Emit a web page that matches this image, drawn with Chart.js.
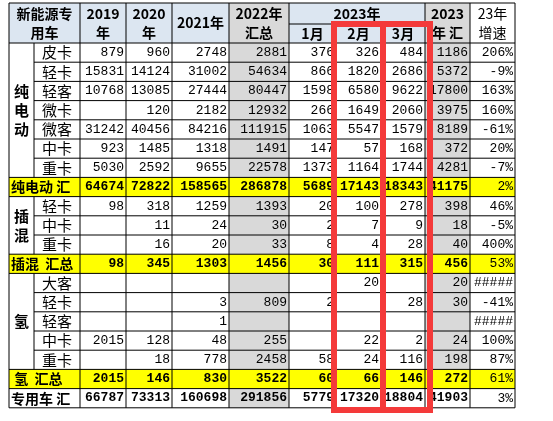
<!DOCTYPE html>
<html>
<head>
<meta charset="utf-8">
<script src="https://cdn.jsdelivr.net/npm/chart.js@4.4.0/dist/chart.umd.min.js"></script>
<style>
  html, body { margin: 0; padding: 0; background: #fff; }
  #wrap { width: 553px; height: 421px; }
</style>
</head>
<body>
<div id="wrap"><canvas id="table" width="553" height="421"></canvas></div>
<script>
// Table data
const rowLabels = ['皮卡', '轻卡', '轻客', '微卡', '微客', '中卡', '重卡', '纯电动 汇',
  '轻卡', '中卡', '重卡', '插混  汇总',
  '大客', '轻卡', '轻客', '中卡', '重卡', ' 氢  汇总', '专用车 汇'];
const groupLabels = ['纯\n电\n动', '插\n混', '氢'];
const y2019 = [879, 15831, 10768, '', 31242, 923, 5030, 64674, 98, '', '', 98, '', '', '', 2015, '', 2015, 66787];
const y2020 = [960, 14124, 13085, 120, 40456, 1485, 2592, 72822, 318, 11, 16, 345, '', '', '', 128, 18, 146, 73313];
const y2021 = [2748, 31002, 27444, 2182, 84216, 1318, 9655, 158565, 1259, 24, 20, 1303, '', 3, 1, 48, 778, 830, 160698];
const y2022 = [2881, 54634, 80447, 12932, 111915, 1491, 22578, 286878, 1393, 30, 33, 1456, '', 809, '', 255, 2458, 3522, 291856];
const m1 = [376, 866, 1598, 266, 1063, 147, 1373, 5689, 20, 2, 8, 30, '', 2, '', '', 58, 60, 5779];
const m2 = [326, 1820, 6580, 1649, 5547, 57, 1164, 17143, 100, 7, 4, 111, 20, '', '', 22, 24, 66, 17320];
const m3 = [484, 2686, 9622, 2060, 1579, 168, 1744, 18343, 278, 9, 28, 315, '', 28, '', 2, 116, 146, 18804];
const y2023 = [1186, 5372, 17800, 3975, 8189, 372, 4281, 41175, 398, 18, 40, 456, 20, 30, '', 24, 198, 272, 41903];
const growth = ['206%', '-9%', '163%', '160%', '-61%', '20%', '-7%', '2%', '46%', '-5%', '400%', '53%',
  '#####', '-41%', '#####', '100%', '87%', '61%', '3%'];
const headers = ['2019\n年', '2020\n年', '2021年', '2022年\n汇总', '1月', '2月', '3月', '2023\n年 汇', '23年\n增速'];

// Layout (in canvas units, mapped through the scales)
const colEdges = [9, 34, 80, 126, 172, 229, 289, 336, 381, 425, 470, 515];
const headTop = 3, headMid = 24, headBottom = 43, rowH = 19.2;
const groups = [[0, 6], [8, 10], [12, 16]];
const totalRows = [7, 11, 17];
const columns = [y2019, y2020, y2021, y2022, m1, m2, m3, y2023, growth];

const tablePlugin = {
  id: 'tablePlugin',
  afterDraw(chart) {
    const { ctx } = chart;
    const X = v => chart.scales.x.getPixelForValue(v);
    const Y = v => chart.scales.y.getPixelForValue(v);
    const rowTop = r => headBottom + r * rowH;
    const cjk = '"Noto Sans CJK SC", sans-serif';
    const fill = (x0, y0, x1, y1, c) => { ctx.fillStyle = c; ctx.fillRect(X(x0), Y(y0), X(x1) - X(x0), Y(y1) - Y(y0)); };
    const line = (x0, y0, x1, y1) => { ctx.beginPath(); ctx.moveTo(X(x0), Y(y0)); ctx.lineTo(X(x1), Y(y1)); ctx.stroke(); };
    const text = (s, x, y, align, font) => {
      ctx.font = font; ctx.textAlign = align; ctx.textBaseline = 'middle'; ctx.fillStyle = '#000';
      ctx.fillText(s, X(x), Y(y));
    };
    const multi = (s, x, yc, font, lh) => {
      const parts = s.split('\n');
      parts.forEach((p, i) => text(p, x, yc + (i - (parts.length - 1) / 2) * lh, 'center', font));
    };

    ctx.save();
    // header backgrounds
    const blue = '#dce6f1', gray = '#d9d9d9';
    fill(colEdges[0], headTop, colEdges[11], headBottom, blue);
    fill(colEdges[5], headTop, colEdges[6], headBottom, gray);
    fill(colEdges[9], headTop, colEdges[10], headBottom, gray);
    fill(colEdges[10], headTop, colEdges[11], headBottom, '#fff');
    // body backgrounds
    const bodyBottom = rowTop(19);
    fill(colEdges[5], headBottom, colEdges[6], bodyBottom, gray);
    fill(colEdges[9], headBottom, colEdges[10], rowTop(18), gray);
    totalRows.forEach(r => fill(colEdges[0], rowTop(r), colEdges[11], rowTop(r + 1), '#ffff00'));

    // grid lines
    ctx.strokeStyle = '#000'; ctx.lineWidth = 1;
    line(colEdges[0], headTop, colEdges[11], headTop);
    line(colEdges[6], headMid, colEdges[9], headMid);
    line(colEdges[0], headBottom, colEdges[11], headBottom);
    for (let r = 1; r <= 19; r++) {
      const inGroup = groups.find(g => r > g[0] && r <= g[1]);
      line(inGroup ? colEdges[1] : colEdges[0], rowTop(r), colEdges[11], rowTop(r));
    }
    colEdges.forEach((x, i) => {
      if (i === 1) {
        groups.forEach(g => line(x, rowTop(g[0]), x, rowTop(g[1] + 1)));
      } else if (i === 7 || i === 8) {
        line(x, headMid, x, bodyBottom);
      } else {
        line(x, headTop, x, bodyBottom);
      }
    });

    // header texts
    const hb = 'bold 14px ' + cjk;
    multi('新能源专\n用车', (colEdges[0] + colEdges[2]) / 2, (headTop + headBottom) / 2, hb, 19);
    headers.forEach((h, i) => {
      const cx = (colEdges[i + 2] + colEdges[i + 3]) / 2;
      const yc = (i >= 4 && i <= 6) ? (headMid + headBottom) / 2 : (headTop + headBottom) / 2;
      multi(h, cx, yc, i === 8 ? '14px ' + cjk : hb, 19);
    });
    multi('2023年', (colEdges[6] + colEdges[9]) / 2, (headTop + headMid) / 2, hb, 19);

    // group labels
    groups.forEach((g, i) => {
      multi(groupLabels[i], (colEdges[0] + colEdges[1]) / 2, (rowTop(g[0]) + rowTop(g[1] + 1)) / 2, 'bold 15px ' + cjk, 19);
    });

    // rows
    rowLabels.forEach((lab, r) => {
      const yc = rowTop(r) + rowH / 2;
      const bold = totalRows.includes(r) || r === 18;
      if (bold) {
        text(lab, colEdges[0] + 2, yc, 'left', 'bold 14px ' + cjk);
      } else {
        text(lab, (colEdges[1] + colEdges[2]) / 2, yc, 'center', '15px ' + cjk);
      }
      columns.forEach((col, c) => {
        const v = col[r];
        if (v === '') return;
        const font = (bold && c < 8 ? 'bold 13px ' : '13px ') + '"Liberation Mono", monospace';
        text(String(v), colEdges[c + 3] - 2, yc, 'right', font);
      });
    });

    // red highlight boxes around Feb and Mar
    ctx.strokeStyle = '#f43a3a'; ctx.lineWidth = 6;
    ctx.strokeRect(X(334), Y(24), X(383) - X(334), Y(410) - Y(24));
    ctx.strokeRect(X(383), Y(24), X(430) - X(383), Y(410) - Y(24));
    ctx.restore();
  }
};

new Chart(document.getElementById('table'), {
  type: 'scatter',
  data: { datasets: [{ data: [] }] },
  options: {
    responsive: false,
    animation: false,
    layout: { padding: 0 },
    scales: {
      x: { type: 'linear', min: 0, max: 553, display: false },
      y: { type: 'linear', min: 0, max: 421, reverse: true, display: false },
    },
    plugins: { legend: { display: false }, tooltip: { enabled: false } },
  },
  plugins: [tablePlugin],
});
</script>
</body>
</html>
